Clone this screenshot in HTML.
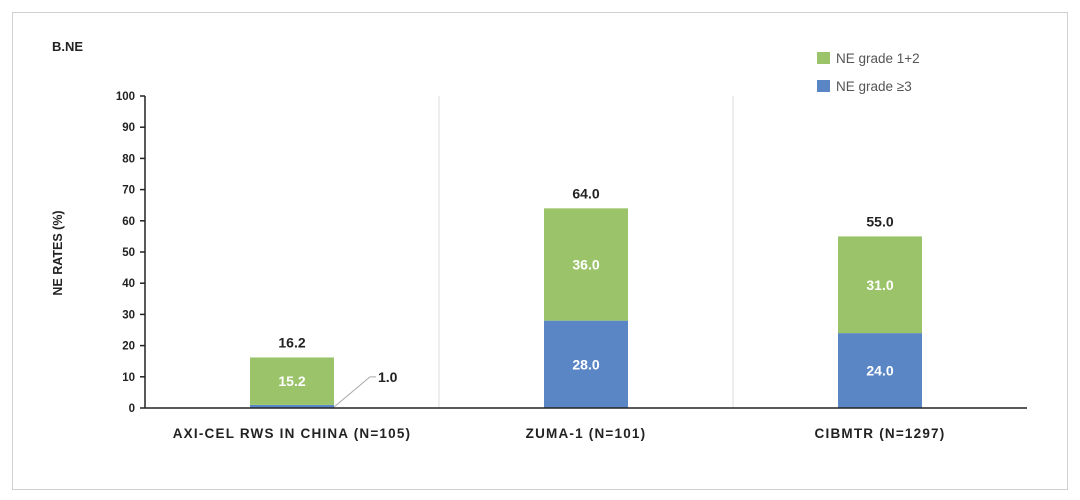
<!DOCTYPE html>
<html><head><meta charset="utf-8"><style>
body{margin:0;background:#fff;font-family:"Liberation Sans",sans-serif}
svg{display:block}
</style></head><body>
<svg width="1080" height="500" viewBox="0 0 1080 500">
<rect x="12.5" y="12.5" width="1055" height="477" fill="#fff" stroke="#d0d0d0"/>
<text x="52" y="51" font-size="13" font-weight="bold" fill="#222">B.NE</text>
<text transform="translate(62,253) rotate(-90)" text-anchor="middle" font-size="12.5" font-weight="bold" fill="#222">NE RATES (%)</text>
<g id="plot"></g>
<g>
<rect x="817" y="52" width="13" height="12" fill="#9bc46a"/>
<text x="836" y="63" font-size="13.5" fill="#555">NE grade 1+2</text>
<rect x="817" y="80" width="13" height="12" fill="#5a86c6"/>
<text x="836" y="91" font-size="13.5" fill="#555">NE grade ≥3</text>
</g>
</svg>
<script>
const categories=["AXI-CEL RWS IN CHINA (N=105)","ZUMA-1 (N=101)","CIBMTR (N=1297)"];
const grade3=[1.0,28.0,24.0];
const grade12=[15.2,36.0,31.0];
const totals=[16.2,64.0,55.0];
const yTicks=[0,10,20,30,40,50,60,70,80,90,100];
const NS="http://www.w3.org/2000/svg";
const g=document.getElementById('plot');
const x0=145,x1=1027,y0=408,y100=96;
const y=v=>y0-(v/100)*(y0-y100);
const bw=(x1-x0)/categories.length;
const cx=i=>x0+bw*(i+0.5);
function mk(t,a,txt){const e=document.createElementNS(NS,t);for(const k in a)e.setAttribute(k,a[k]);if(txt!=null)e.textContent=txt;g.appendChild(e);return e;}
for(let i=1;i<categories.length;i++){
 const l=mk('line',{x1:x0+bw*i,x2:x0+bw*i,y1:y100,y2:y0,stroke:'#ddd'});
 
 
}
yTicks.forEach(t=>{
 const l=mk('line',{x1:x0-5,x2:x0,y1:y(t),y2:y(t),stroke:'#222','stroke-width':1.5});
 
 
 const tx=mk('text',{x:x0-10,y:y(t)+4,'text-anchor':'end','font-size':11.5,'font-weight':'bold',fill:'#222'},t);
 
 
});
const barW=84;
categories.forEach((c,i)=>{
 const bx=cx(i)-barW/2;
 const b1=mk('rect',{x:bx,y:y(grade3[i]),width:barW,height:y0-y(grade3[i]),fill:'#5a86c6'});
 
 
 const b2=mk('rect',{x:bx,y:y(grade3[i]+grade12[i]),width:barW,height:y(grade3[i])-y(grade3[i]+grade12[i]),fill:'#9bc46a'});
 
 
 const t2=mk('text',{x:cx(i),y:(y(grade3[i])+y(grade3[i]+grade12[i]))/2+5,'text-anchor':'middle','font-size':14,'font-weight':'bold',fill:'#fff'},grade12[i].toFixed(1));
 
 
 if(grade3[i]>=5){
  const t1=mk('text',{x:cx(i),y:(y0+y(grade3[i]))/2+5,'text-anchor':'middle','font-size':14,'font-weight':'bold',fill:'#fff'},grade3[i].toFixed(1));
  
  
 } else {
  const bxr=bx+barW, ly=y(grade3[i])-28;
  const pl=mk('polyline',{points:`${bxr},${y0-1} ${bxr+36},${ly} ${bxr+42},${ly}`,fill:'none',stroke:'#aaa'});
  
  
  const t1=mk('text',{x:bxr+44,y:ly+5,'font-size':14,'font-weight':'bold',fill:'#222'},grade3[i].toFixed(1));
  
  
 }
 const tt=mk('text',{x:cx(i),y:y(totals[i])-10,'text-anchor':'middle','font-size':14,'font-weight':'bold',fill:'#222'},totals[i].toFixed(1));
 
 
 const cl=mk('text',{x:cx(i),y:438,'text-anchor':'middle','font-size':13.5,'font-weight':'bold',fill:'#222','letter-spacing':1.2},c);
 
 
});
const ax=mk('line',{x1:x0,x2:x0,y1:y100,y2:y0,stroke:'#222','stroke-width':1.5});


const bx=mk('line',{x1:x0,x2:x1,y1:y0,y2:y0,stroke:'#222','stroke-width':1.5});


</script>
</body></html>
